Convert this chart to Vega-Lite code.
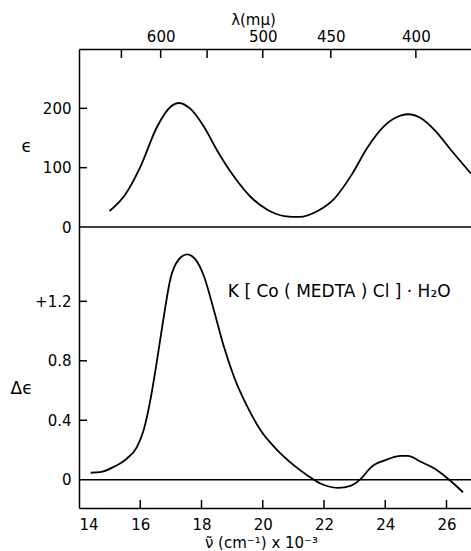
{
  "$schema": "https://vega.github.io/schema/vega-lite/v6.json",
  "padding": {"left": 10, "top": 12, "right": 0, "bottom": 0},
  "background": "white",
  "spacing": 0,
  "bounds": "flush",
  "config": {
    "view": {"stroke": null},
    "font": "DejaVu Sans",
    "axis": {
      "labelFont": "DejaVu Sans", "labelFontSize": 15, "labelColor": "black",
      "titleFont": "DejaVu Sans", "titleColor": "black", "titleFontWeight": "normal",
      "domainColor": "black", "domainWidth": 1.5, "ticks": false, "grid": false
    }
  },
  "datasets": {
    "eps": [
      {"nu": 15.0, "eps": 27}, {"nu": 15.5, "eps": 54}, {"nu": 16.0, "eps": 101}, {"nu": 16.55, "eps": 169},
      {"nu": 17.0, "eps": 203}, {"nu": 17.26, "eps": 209}, {"nu": 17.64, "eps": 199}, {"nu": 18.08, "eps": 169},
      {"nu": 18.51, "eps": 129}, {"nu": 19.06, "eps": 85}, {"nu": 19.6, "eps": 51}, {"nu": 20.15, "eps": 29},
      {"nu": 20.7, "eps": 18.5}, {"nu": 21.2, "eps": 17}, {"nu": 21.79, "eps": 27}, {"nu": 22.34, "eps": 48},
      {"nu": 22.89, "eps": 87}, {"nu": 23.43, "eps": 135}, {"nu": 23.98, "eps": 171}, {"nu": 24.52, "eps": 188},
      {"nu": 24.74, "eps": 190}, {"nu": 25.18, "eps": 183}, {"nu": 25.62, "eps": 163}, {"nu": 26.16, "eps": 129},
      {"nu": 26.8, "eps": 90}
    ],
    "deps": [
      {"nu": 14.38, "d": 0.047}, {"nu": 14.69, "d": 0.051}, {"nu": 15.12, "d": 0.085}, {"nu": 15.56, "d": 0.142},
      {"nu": 15.89, "d": 0.22}, {"nu": 16.11, "d": 0.333}, {"nu": 16.33, "d": 0.536}, {"nu": 16.55, "d": 0.806},
      {"nu": 16.77, "d": 1.099}, {"nu": 16.98, "d": 1.347}, {"nu": 17.26, "d": 1.482}, {"nu": 17.53, "d": 1.516},
      {"nu": 17.8, "d": 1.482}, {"nu": 18.08, "d": 1.369}, {"nu": 18.4, "d": 1.144}, {"nu": 18.73, "d": 0.896},
      {"nu": 19.06, "d": 0.693}, {"nu": 19.5, "d": 0.49}, {"nu": 19.93, "d": 0.333}, {"nu": 20.48, "d": 0.198},
      {"nu": 21.02, "d": 0.097}, {"nu": 21.46, "d": 0.029}, {"nu": 21.9, "d": -0.027}, {"nu": 22.45, "d": -0.054},
      {"nu": 22.89, "d": -0.039}, {"nu": 23.21, "d": 0.007}, {"nu": 23.54, "d": 0.085}, {"nu": 23.98, "d": 0.13},
      {"nu": 24.52, "d": 0.16}, {"nu": 24.74, "d": 0.16}, {"nu": 25.18, "d": 0.119}, {"nu": 25.62, "d": 0.074},
      {"nu": 26.05, "d": 0.007}, {"nu": 26.54, "d": -0.084}
    ],
    "lamticks": [{"nu": 15.3846}, {"nu": 16.6667}, {"nu": 18.1818}, {"nu": 20}, {"nu": 22.2222}, {"nu": 25}],
    "epsticks": [{"eps": 100}, {"eps": 200}],
    "nuticks": [{"nu": 16}, {"nu": 18}, {"nu": 20}, {"nu": 22}, {"nu": 24}, {"nu": 26}],
    "dticks": [{"d": 0.4}, {"d": 0.8}, {"d": 1.2}]
  },
  "vconcat": [
    {
      "width": 392,
      "height": 178,
      "layer": [
        {
          "data": {"name": "eps"},
          "mark": {"type": "line", "color": "black", "strokeWidth": 1.8, "interpolate": "monotone"},
          "encoding": {
            "x": {
              "field": "nu", "type": "quantitative",
              "scale": {"domain": [14, 26.8], "nice": false, "zero": false},
              "axis": {
                "orient": "top",
                "values": [15.3846, 16.6667, 18.1818, 20, 22.2222, 25],
                "labelExpr": "indexof([600, 500, 450, 400], round(10000 / datum.value)) >= 0 ? '' + round(10000 / datum.value) : ''",
                "labelPadding": 5,
                "title": "λ(mμ)", "titleFontSize": 15,
                "titleX": 174, "titleY": -37, "titleAlign": "center", "titleBaseline": "top"
              }
            },
            "y": {
              "field": "eps", "type": "quantitative",
              "scale": {"domain": [0, 300], "nice": false},
              "axis": {
                "values": [0, 100, 200], "labelPadding": 8,
                "title": "ϵ", "titleAngle": 0, "titleFontSize": 17,
                "titleX": -58, "titleY": 97, "titleAlign": "left", "titleBaseline": "middle"
              }
            }
          }
        },
        {
          "data": {"name": "lamticks"},
          "mark": {"type": "tick", "orient": "vertical", "color": "black", "opacity": 1, "size": 18, "thickness": 1.5, "clip": true},
          "encoding": {
            "x": {"field": "nu", "type": "quantitative"},
            "y": {"datum": 300, "type": "quantitative"}
          }
        },
        {
          "data": {"name": "epsticks"},
          "mark": {"type": "tick", "orient": "horizontal", "color": "black", "opacity": 1, "size": 16, "thickness": 1.5, "clip": true},
          "encoding": {
            "y": {"field": "eps", "type": "quantitative"},
            "x": {"datum": 14, "type": "quantitative"}
          }
        },
        {
          "data": {"values": [{}]},
          "mark": {"type": "rule", "color": "black", "strokeWidth": 1.5},
          "encoding": {"y": {"datum": 0, "type": "quantitative"}}
        }
      ]
    },
    {
      "width": 392,
      "height": 281,
      "layer": [
        {
          "data": {"name": "deps"},
          "mark": {"type": "line", "color": "black", "strokeWidth": 1.8, "interpolate": "monotone"},
          "encoding": {
            "x": {
              "field": "nu", "type": "quantitative",
              "scale": {"domain": [14, 26.8], "nice": false, "zero": false},
              "axis": {
                "values": [14, 16, 18, 20, 22, 24, 26], "labelPadding": 9,
                "title": "ν̃ (cm⁻¹) x 10⁻³", "titleFontSize": 15,
                "titleX": 182, "titleY": 34, "titleAlign": "center", "titleBaseline": "middle"
              }
            },
            "y": {
              "field": "d", "type": "quantitative",
              "scale": {"domain": [-0.19, 1.7], "nice": false, "zero": false},
              "axis": {
                "values": [0, 0.4, 0.8, 1.2], "labelPadding": 8,
                "labelExpr": "datum.value == 0 ? '0' : (datum.value > 1 ? '+' + format(datum.value, '.1f') : format(datum.value, '.1f'))",
                "title": "Δϵ", "titleAngle": 0, "titleFontSize": 17,
                "titleX": -69, "titleY": 161, "titleAlign": "left", "titleBaseline": "middle"
              }
            }
          }
        },
        {
          "data": {"name": "nuticks"},
          "mark": {"type": "tick", "orient": "vertical", "color": "black", "opacity": 1, "size": 16, "thickness": 1.5, "clip": true},
          "encoding": {
            "x": {"field": "nu", "type": "quantitative"},
            "y": {"datum": -0.19, "type": "quantitative"}
          }
        },
        {
          "data": {"name": "dticks"},
          "mark": {"type": "tick", "orient": "horizontal", "color": "black", "opacity": 1, "size": 16, "thickness": 1.5, "clip": true},
          "encoding": {
            "y": {"field": "d", "type": "quantitative"},
            "x": {"datum": 14, "type": "quantitative"}
          }
        },
        {
          "data": {"values": [{}]},
          "mark": {"type": "rule", "color": "black", "strokeWidth": 1.5},
          "encoding": {"y": {"datum": 0, "type": "quantitative"}}
        },
        {
          "data": {"values": [{}]},
          "mark": {"type": "text", "text": "K  [ Co ( MEDTA ) Cl ] · H₂O", "align": "left", "baseline": "middle", "fontSize": 17, "font": "DejaVu Sans", "color": "black"},
          "encoding": {
            "x": {"datum": 18.86, "type": "quantitative"},
            "y": {"datum": 1.265, "type": "quantitative"}
          }
        }
      ]
    }
  ]
}
